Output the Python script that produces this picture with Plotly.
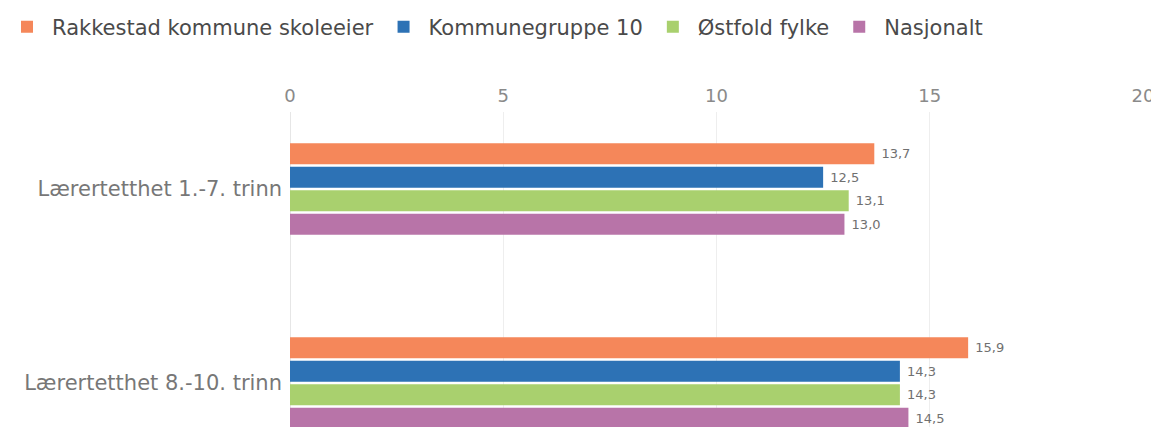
import plotly.graph_objects as go

categories = ["Lærertetthet 1.-7. trinn", "Lærertetthet 8.-10. trinn"]
series_names = ["Rakkestad kommune skoleeier", "Kommunegruppe 10", "Østfold fylke", "Nasjonalt"]
rakkestad = [13.7, 15.9]
kommunegruppe = [12.5, 14.3]
ostfold = [13.1, 14.3]
nasjonalt = [13.0, 14.5]
colors = ["#F5875A", "#2D72B5", "#A9D06E", "#B874A8"]
x_ticks = [0, 5, 10, 15, 20]

# page body has an 8px margin, so the figure is drawn 8px in from the window edge
OFF = 8
W, H = 1159 - OFF, 427 - OFF
ML, MR, MT, MB = 290 - OFF, 16, 112 - OFF, 0
plot_h = H - MT - MB
plot_w = W - ML - MR
c0, c1 = 189 - OFF, 383 - OFF
band = c1 - c0

fig = go.Figure()
for name, vals, col in zip(series_names, [rakkestad, kommunegruppe, ostfold, nasjonalt], colors):
    fig.add_trace(go.Bar(
        y=categories, x=vals, name=name, orientation="h",
        marker=dict(color=col, line=dict(width=0)),
        text=vals, texttemplate=" %{x:.1f}", textposition="outside",
        textfont=dict(family="DejaVu Sans", size=13, color="#707070"),
        cliponaxis=False,
    ))

fig.update_layout(
    width=W, height=H,
    margin=dict(l=ML, r=MR, t=MT, b=MB, autoexpand=False),
    paper_bgcolor="white", plot_bgcolor="white",
    separators=",.",
    barmode="group", bargap=0.515, bargroupgap=0.1,
    font=dict(family="DejaVu Sans", color="#666666"),
    legend=dict(
        orientation="h", x=(-6 - ML) / plot_w, xanchor="left",
        y=(H - 19 - MB) / plot_h, yanchor="middle",
        font=dict(size=21, color="#4a4a4a"),
        itemwidth=40, traceorder="normal",
    ),
    xaxis=dict(
        side="top", range=[0, 20], tickvals=x_ticks,
        showgrid=True, gridcolor="#EEEEEE", gridwidth=1,
        zeroline=True, zerolinecolor="#E6E6E6", zerolinewidth=1,
        tickfont=dict(size=18, color="#8a8a8a"),
        ticklabelstandoff=5, fixedrange=True,
    ),
    yaxis=dict(
        type="category", range=[1 + (H - MB - c1) / band, -(c0 - MT) / band],
        tickfont=dict(size=21, color="#777777"),
        showgrid=False, zeroline=False, ticks="", ticklabelstandoff=7,
    ),
)

fig.write_html("out.html")
